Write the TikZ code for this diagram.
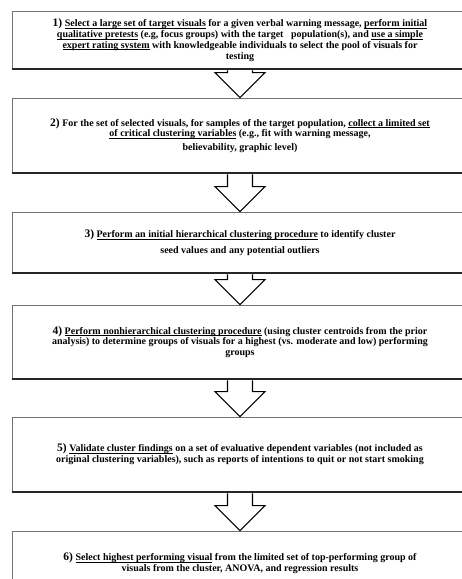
\documentclass[tikz,border=0pt]{standalone}
\usepackage{fontspec}
\setmainfont{Liberation Serif}
\usetikzlibrary{calc}

\newcommand{\stepno}[1]{{\fontsize{11.5}{11.5}\selectfont #1)}}
\newcommand{\ulkey}[1]{\underline{\smash{#1}}}

\begin{document}
\begin{tikzpicture}[x=1pt,y=1pt,line width=0.8pt,
  stepbox/.style={draw=black!55,line width=0.7pt,fill=white,
    minimum width=456pt,align=center,inner sep=0pt,
    font=\bfseries\fontsize{10}{10.8}\selectfont},
  shadowline/.style={line width=2.2pt,black!85},
  flowarrow/.style={line width=1.1pt,line join=miter,fill=white}]
\useasboundingbox (0,0) rectangle (462,-579);
\clip (0,0) rectangle (462,-579);
% ---------- 1) pool of visuals ----------
\node[stepbox,minimum height=58pt] (s1) at (240,-40)
  {\stepno{1} \ulkey{Select a large set of target visuals} for a given verbal warning message, \ulkey{perform initial}\\
   \ulkey{qualitative pretests} (e.g, focus groups) with the target\ \ \ population(s), and \ulkey{use a simple}\\
   \ulkey{expert rating system} with knowledgeable individuals to select the pool of visuals for\\
   testing};
% ---------- 2) clustering variables ----------
\node[stepbox,minimum height=75pt] (s2) at (240,-135.5)
  {\stepno{2} For the set of selected visuals, for samples of the target population, \ulkey{collect a limited set}\\
   \ulkey{of critical clustering variables} (e.g., fit with warning message,\\[3pt]
   believability, graphic level)};
% ---------- 3) hierarchical clustering ----------
\node[stepbox,minimum height=61pt] (s3) at (240,-242.5)
  {\stepno{3} \ulkey{Perform an initial hierarchical clustering procedure} to identify cluster\\[5pt]
   seed values and any potential outliers};
% ---------- 4) nonhierarchical clustering ----------
\node[stepbox,minimum height=74pt] (s4) at (240,-342)
  {\stepno{4} \ulkey{Perform nonhierarchical clustering procedure} (using cluster centroids from the prior\\
   analysis) to determine groups of visuals for a highest (vs. moderate and low) performing\\
   groups};
% ---------- 5) validation ----------
\node[stepbox,minimum height=75pt] (s5) at (240,-454.5)
  {\stepno{5} \ulkey{Validate cluster findings} on a set of evaluative dependent variables (not included as\\
   original clustering variables), such as reports of intentions to quit or not start smoking};
% ---------- 6) final choice ----------
\node[stepbox,minimum height=64pt] (s6) at (240,-563)
  {\stepno{6} \ulkey{Select highest performing visual} from the limited set of top-performing group of\\
   visuals from the cluster, ANOVA, and regression results};
% thick lower edges
\foreach \n in {s1,s2,s3,s4,s5,s6}{
  \draw[shadowline] (\n.south west) -- (\n.south east) -- (\n.north east);}
% block arrows between the steps
\foreach \a/\b in {s1/s2,s2/s3,s3/s4,s4/s5,s5/s6}{
  \draw[flowarrow] ($(\a.south)+(-12.5,-1)$) |- ($(\b.north)+(-25,25)$)
      -- (\b.north) -- ($(\b.north)+(25,25)$) -| ($(\a.south)+(12.5,-1)$);}
\end{tikzpicture}
\end{document}
